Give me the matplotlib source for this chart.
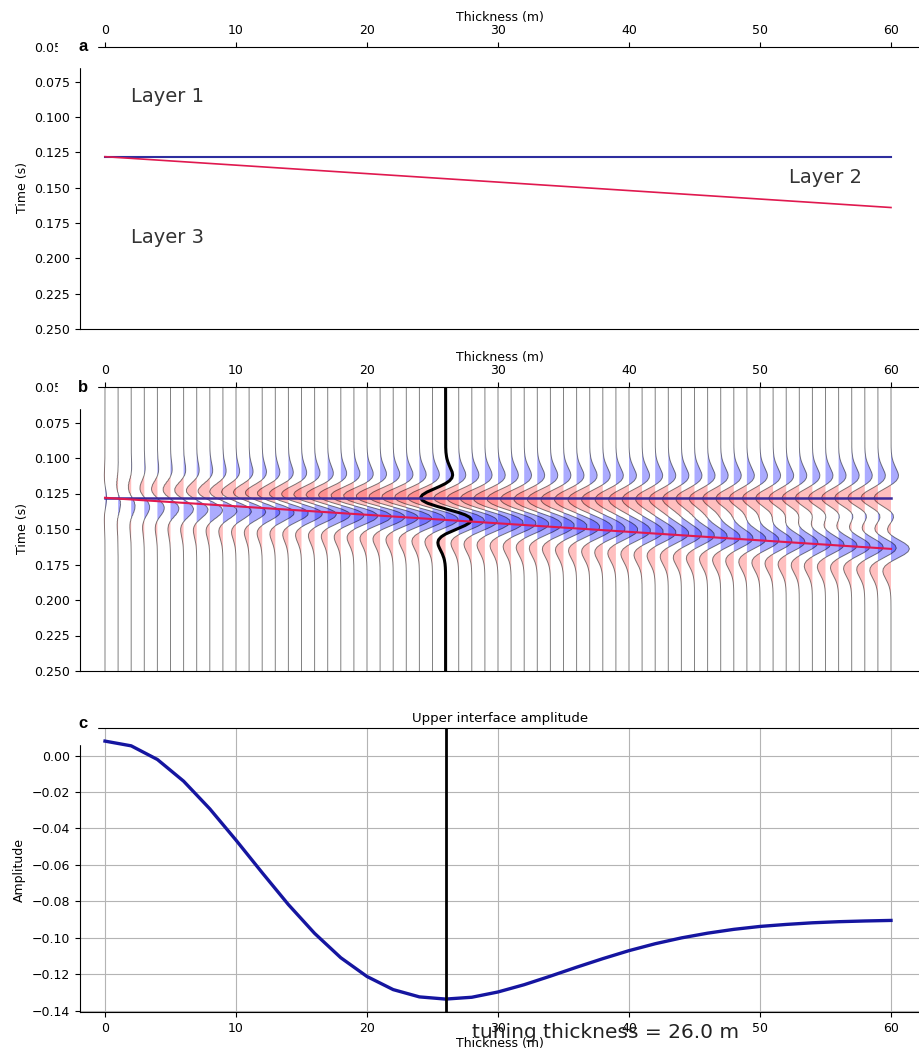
import numpy as np
import matplotlib
matplotlib.use("Agg")
import matplotlib.pyplot as plt
from matplotlib.patches import Rectangle

# wedge model
wedge_x = [0, 60]
top_time = [0.128, 0.128]
base_time = [0.128, 0.164]
rc_top, rc_base = -0.090, 0.098
tuning_m = 26.0

# wavelet, one side only (lag in s, 2 ms step)
wav_lag = [0.000, 0.002, 0.004, 0.006, 0.008, 0.010, 0.012, 0.014, 0.016, 0.018, 0.020,
           0.022, 0.024, 0.026, 0.028, 0.030, 0.032, 0.034, 0.036, 0.038, 0.040]
wav_amp = [1.000, 0.927, 0.727, 0.445, 0.142, -0.126, -0.320, -0.423, -0.445, -0.406, -0.334,
           -0.251, -0.175, -0.113, -0.069, -0.039, -0.021, -0.011, -0.005, -0.002, -0.001]

trace_x = list(range(0, 61))

# upper interface amplitude (panel c)
amp_x = [0, 2, 4, 6, 8, 10, 12, 14, 16, 18, 20, 22, 24, 26, 28, 30,
         32, 34, 36, 38, 40, 42, 44, 46, 48, 50, 52, 54, 56, 58, 60]
amp_top = [0.0080, 0.0054, -0.0021, -0.0140, -0.0292, -0.0464, -0.0643, -0.0818,
           -0.0976, -0.1110, -0.1213, -0.1285, -0.1325, -0.1337, -0.1327, -0.1298,
           -0.1258, -0.1211, -0.1162, -0.1115, -0.1071, -0.1033, -0.1001, -0.0975,
           -0.0954, -0.0938, -0.0927, -0.0918, -0.0912, -0.0908, -0.0905]

W, H = 920, 1055
XLIM = (-1.908, 62.214)
gain = 14.3

plt.rcParams['font.size'] = 9
fig = plt.figure(figsize=(W / 100, H / 100), dpi=100)

def rect(top_px, bot_px):
    return [80 / W, 1 - bot_px / H, 1 - 80 / W, (bot_px - top_px) / H]

ax0 = fig.add_axes(rect(46.5, 329))
ax1 = fig.add_axes(rect(387, 671))
ax2 = fig.add_axes(rect(728, 1012))

def wavelet(lag):
    return np.interp(np.abs(lag), wav_lag, wav_amp, right=0.0)

# panel a - the model
for ax in (ax0, ax1):
    ax.set_xlim(*XLIM)
    ax.set_ylim(0.25, 0.05)
    ax.set_yticks([0.05, 0.075, 0.1, 0.125, 0.15, 0.175, 0.2, 0.225, 0.25])
    ax.set_yticklabels(["0.050", "0.075", "0.100", "0.125", "0.150", "0.175", "0.200", "0.225", "0.250"])
    ax.xaxis.tick_top()
    ax.xaxis.set_label_position('top')
    ax.set_xticks([0, 10, 20, 30, 40, 50, 60])
    ax.set_xlabel("Thickness (m)", labelpad=2)
    ax.set_ylabel("Time (s)")
    ax.spines['right'].set_visible(False)

ax0.plot(wedge_x, top_time, color='#2e2e9e', lw=1.5)
ax0.plot(wedge_x, base_time, color='#e0194f', lw=1.2)
ax0.text(2.0, 0.0853, "Layer 1", fontsize=14, color='#333333', va='center')
ax0.text(52.2, 0.1424, "Layer 2", fontsize=14, color='#333333', va='center')
ax0.text(2.0, 0.1855, "Layer 3", fontsize=14, color='#333333', va='center')

# panel b - synthetic traces
t = np.arange(0.05, 0.2501, 0.0005)
for h in trace_x:
    tb = np.interp(h, wedge_x, base_time)
    tr = rc_top * wavelet(t - top_time[0]) + rc_base * wavelet(t - tb)
    xs = h + gain * tr
    ax1.fill_betweenx(t, h, xs, where=tr > 0, color='blue', alpha=0.33, lw=0, interpolate=True)
    ax1.fill_betweenx(t, h, xs, where=tr < 0, color='red', alpha=0.25, lw=0, interpolate=True)
    if h == tuning_m:
        ax1.plot(xs, t, color='k', lw=2.2, zorder=4)
    else:
        ax1.plot(xs, t, color='k', lw=0.7, alpha=0.5)

ax1.plot(wedge_x, top_time, color='#3d2a9a', lw=1.8, zorder=5)
ax1.plot(wedge_x, base_time, color='#e0194f', lw=1.5, zorder=5)

# panel c - amplitude
ax2.plot(amp_x, amp_top, color='#1515a0', lw=2.4, zorder=3)
ax2.axvline(tuning_m, color='k', lw=2, zorder=4)
ax2.set_xlim(*XLIM)
ax2.set_ylim(-0.1408, 0.0152)
ax2.set_xticks([0, 10, 20, 30, 40, 50, 60])
ax2.set_yticks([0.0, -0.02, -0.04, -0.06, -0.08, -0.10, -0.12, -0.14])
ax2.grid(True, color='#b4b4b4', lw=0.8)
ax2.set_axisbelow(True)
ax2.spines['right'].set_visible(False)
ax2.set_title("Upper interface amplitude", fontsize=9.5, pad=4)
ax2.set_xlabel("Thickness (m)", labelpad=2)
ax2.set_ylabel("Amplitude")
ax2.text(28.0, -0.152, "tuning thickness = %.1f m" % tuning_m, fontsize=14.5,
         color='#222222', va='center', clip_on=False, zorder=6)

# panel letters sit on white patches over the corner
for letter, top_px in (("a", 46.5), ("b", 387), ("c", 723)):
    fig.add_artist(Rectangle((58 / W, 1 - (top_px + 21) / H), 39 / W, 36 / H,
                             transform=fig.transFigure, color='white', zorder=10))
    fig.text(83.5 / W, 1 - top_px / H, letter, fontsize=12, weight='bold',
             family='Liberation Sans', ha='center', va='center', zorder=11)

fig.savefig("out.png", dpi=100)
